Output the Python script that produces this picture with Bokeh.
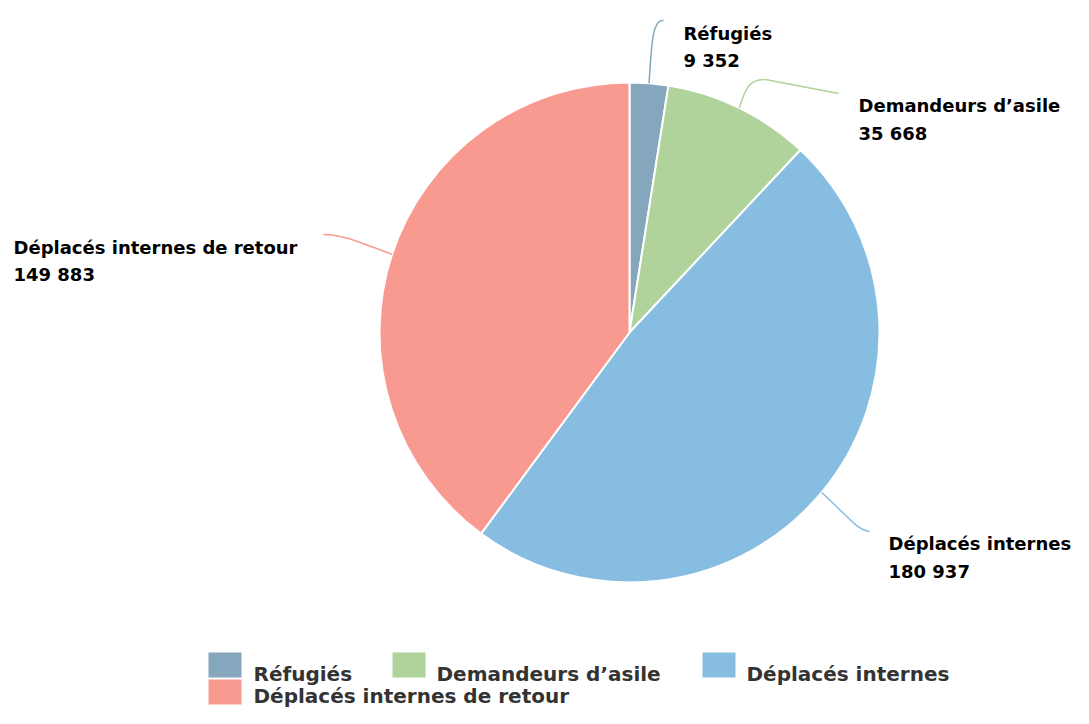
import math
from bokeh.plotting import figure
from bokeh.models import Range1d, ColumnDataSource
from bokeh.core.properties import value
from bokeh.embed import file_html
from bokeh.resources import INLINE

# ---- data ----
categories = ["Réfugiés", "Demandeurs d’asile", "Déplacés internes", "Déplacés internes de retour"]
values = [9352, 35668, 180937, 149883]
value_labels = ["9 352", "35 668", "180 937", "149 883"]
colors = ["#85a7bd", "#afd39b", "#86bde0", "#f99a90"]

# ---- layout (image pixel coords; data y = -pixel_y) ----
CX, CY, R = 629, 332, 250
label_x = [683, 858, 888, 13]
label_y1 = [33, 105, 543, 247]
label_y2 = [60, 133, 571, 274]
# connector: control0, control1, knee, end (pixel coords)
conn_c0 = [(651, 50), (745, 88), (845, 513), (355, 240)]
conn_c1 = [(651, 22), (748, 79), (855, 529), (340, 234)]
conn_knee = [(661, 20), (765, 79), (869, 531), (323, 234)]
conn_end = [(663, 20), (838, 93), (869, 531), (323, 234)]

leg_sq_x = [208, 392, 702, 208]
leg_sq_y = [652, 652, 652, 679]
leg_txt_x = [253, 436, 746, 253]
leg_txt_y = [673, 673, 673, 695]
SQ_W, SQ_H = 33, 25

LABEL_FONT = "DejaVu Sans"
LABEL_SIZE = "18px"
LEG_SIZE = "20px"

total = sum(values)
cum = 0
starts, ends, mids = [], [], []
for v in values:
    a0 = math.pi / 2 - 2 * math.pi * cum / total
    cum += v
    a1 = math.pi / 2 - 2 * math.pi * cum / total
    starts.append(a0)
    ends.append(a1)
    mids.append((a0 + a1) / 2)

W, H = 1073, 708
p = figure(width=W, height=H, x_range=Range1d(0, W), y_range=Range1d(-H, 0),
           output_backend="svg", toolbar_location=None,
           x_axis_location=None, y_axis_location=None, min_border=0)
p.outline_line_color = None
p.xgrid.visible = False
p.ygrid.visible = False
p.background_fill_color = "white"
p.border_fill_color = "white"

src = ColumnDataSource(dict(cat=categories, val=values, start=starts, end=ends, color=colors))
p.wedge(x=CX, y=-CY, radius=R, radius_units="screen", start_angle="start", end_angle="end",
        direction="clock", fill_color="color", line_color="white", line_width=2, source=src)

# connectors
ex = [CX + R * math.cos(m) for m in mids]
ey = [-CY + R * math.sin(m) for m in mids]
p.bezier(x0=ex, y0=ey,
         x1=[k[0] for k in conn_knee], y1=[-k[1] for k in conn_knee],
         cx0=[c[0] for c in conn_c0], cy0=[-c[1] for c in conn_c0],
         cx1=[c[0] for c in conn_c1], cy1=[-c[1] for c in conn_c1],
         line_color=colors, line_width=1.5)
p.segment(x0=[k[0] for k in conn_knee], y0=[-k[1] for k in conn_knee],
          x1=[e[0] for e in conn_end], y1=[-e[1] for e in conn_end],
          line_color=colors, line_width=1.5)

# labels
p.text(x=label_x, y=[-y for y in label_y1], text=categories,
       text_font=value(LABEL_FONT), text_font_style="bold", text_font_size=LABEL_SIZE,
       text_color="black", text_baseline="alphabetic", text_align="left")
p.text(x=label_x, y=[-y for y in label_y2], text=value_labels,
       text_font=value(LABEL_FONT), text_font_style="bold", text_font_size=LABEL_SIZE,
       text_color="black", text_baseline="alphabetic", text_align="left")

# legend (manual)
p.rect(x=[x + SQ_W / 2 for x in leg_sq_x], y=[-(y + SQ_H / 2) for y in leg_sq_y],
       width=SQ_W, height=SQ_H, width_units="screen", height_units="screen",
       fill_color=colors, line_color=None)
p.text(x=leg_txt_x, y=[-y for y in leg_txt_y], text=categories,
       text_font=value(LABEL_FONT), text_font_style="bold", text_font_size=LEG_SIZE,
       text_color="#333333", text_baseline="alphabetic", text_align="left")

open("out.html", "w").write(file_html(p, INLINE))
